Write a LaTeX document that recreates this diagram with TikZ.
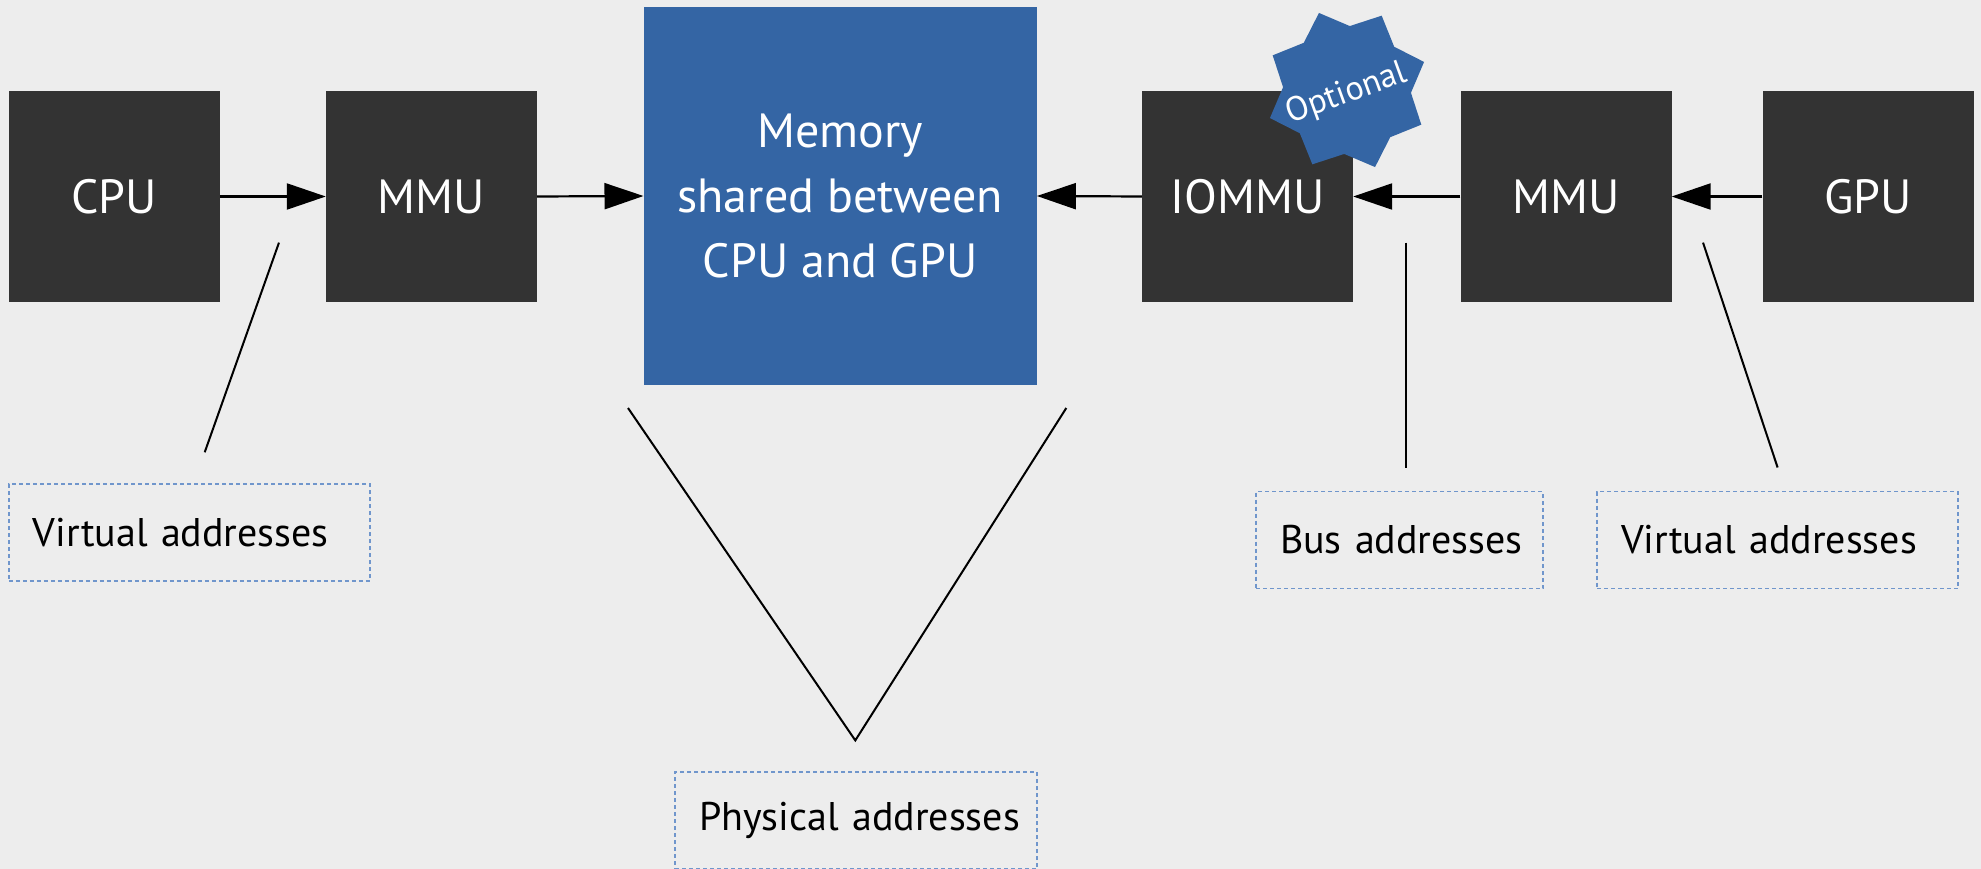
\documentclass[tikz,border=0pt]{standalone}
\usepackage{fontspec}
\setmainfont{PT Sans}
\usetikzlibrary{arrows.meta}
\definecolor{bg}{HTML}{EDEDED}
\definecolor{unitgray}{HTML}{333333}
\definecolor{memblue}{HTML}{3465A4}
\definecolor{dashblue}{HTML}{7096CC}

\begin{document}
\begin{tikzpicture}[x=1pt,y=-1pt,
  unitbox/.style={fill=unitgray, text=white, minimum width=211pt, minimum height=211pt,
    inner sep=0pt, font=\fontsize{48}{58}\selectfont},
  membox/.style={fill=memblue, text=white, minimum width=393pt, minimum height=378pt,
    inner sep=0pt, align=center, font=\fontsize{48}{65}\selectfont},
  flow/.style={line width=2.2pt, -{Triangle[length=39pt,width=26pt]}},
  pointer/.style={line width=2pt},
  addrbox/.style={draw=dashblue, line width=1.3pt, dash pattern=on 4pt off 3pt,
    minimum height=97pt, inner xsep=24pt, inner ysep=0pt, align=left,
    font=\fontsize{40}{48}\selectfont, text=black}]

  % canvas
  \fill[bg] (0,0) rectangle (1981,869);
  \useasboundingbox (0,0) rectangle (1981,869);

  % processing units and memory
  \node[unitbox] (cpu)   at (114.3,196.5) {CPU};
  \node[unitbox] (mmuc)  at (431.5,196.5) {MMU};
  \node[membox]  (mem)   at (840.2,196)   {Memory\\shared between\\CPU and GPU};
  \node[unitbox] (iommu) at (1247.5,196.5) {IOMMU};
  \node[unitbox] (mmug)  at (1566,196.5)  {MMU};
  \node[unitbox] (gpu)   at (1868,196.5)  {GPU};

  % data paths into memory
  \draw[flow] (cpu.east)   -- (mmuc.west);
  \draw[flow] (mmuc.east)  -- (mem.west);
  \draw[flow] (iommu.west) -- (mem.east);
  \draw[flow] (mmug.west)  -- (iommu.east);
  \draw[flow] (gpu.west)   -- (mmug.east);

  % "Optional" badge on the IOMMU
  \coordinate (badge) at (1347,90);
  \fill[memblue] ([shift={(-20:82)}]badge)
    \foreach \i in {0,...,7} {
      -- ([shift={(-20-45*\i:82)}]badge) -- ([shift={(-42.5-45*\i:64)}]badge)
    } -- cycle;
  \node[text=white, rotate=20, inner sep=0pt, font=\fontsize{34}{40}\selectfont] (opt) at (1347,94) {Optional};

  % address space labels
  \node[addrbox, minimum width=361pt, text width=313pt] (vcpu) at (189.4,532.5) {\mbox{Virtual addresses}};
  \node[addrbox, minimum width=362pt, text width=314pt] (phys) at (856,820.5) {\mbox{Physical addresses}};
  \node[addrbox, minimum width=287pt, text width=239pt] (bus)  at (1399.5,540) {\mbox{Bus addresses}};
  \node[addrbox, minimum width=361pt, text width=313pt] (vgpu) at (1777.5,540) {\mbox{Virtual addresses}};

  % label pointers
  \coordinate (pv1) at (279,242.6);   \coordinate (pv2) at (204.7,452.3);
  \coordinate (pm1) at (628,408);     \coordinate (pm2) at (855.3,740.4);
  \coordinate (pm3) at (1066.3,408);
  \coordinate (pb1) at (1406,242.6);  \coordinate (pb2) at (1406,467.5);
  \coordinate (pg1) at (1703,242.6);  \coordinate (pg2) at (1777.6,467.5);
  \draw[pointer] (pv1) -- (pv2);
  \draw[pointer] (pm1) -- (pm2) -- (pm3);
  \draw[pointer] (pb1) -- (pb2);
  \draw[pointer] (pg1) -- (pg2);
\end{tikzpicture}
\end{document}
